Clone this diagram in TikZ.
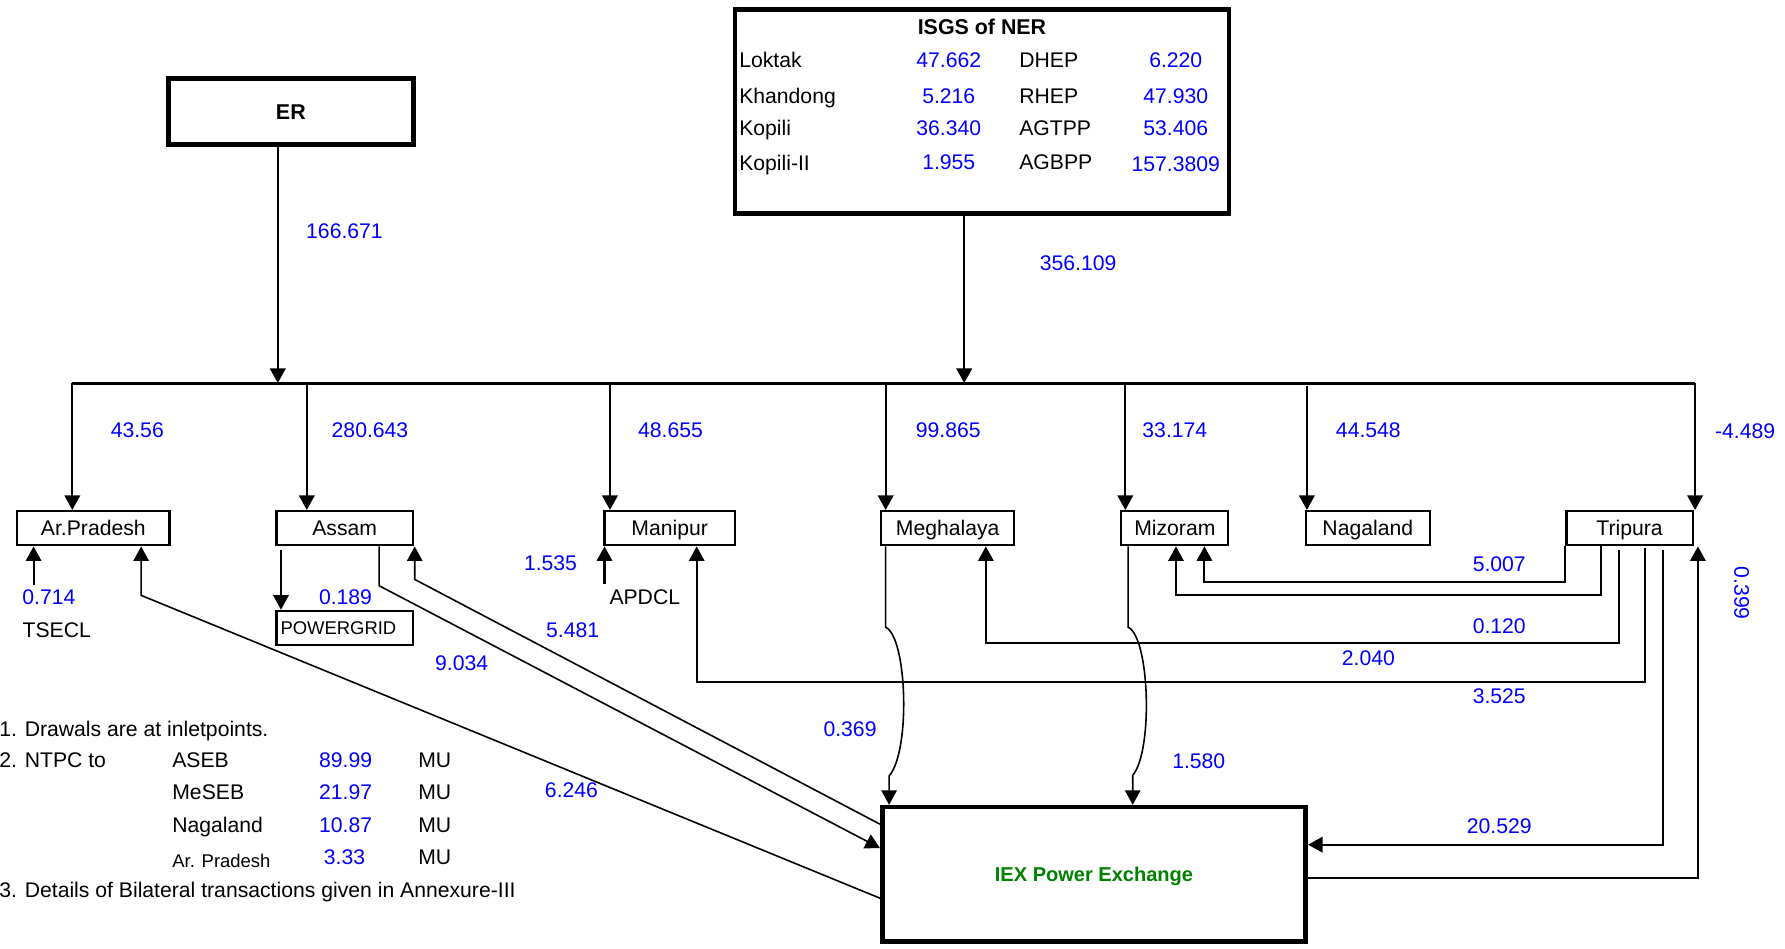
\documentclass[tikz,border=0pt]{standalone}
\usepackage{fontspec}
\setmainfont{Liberation Sans}
\usepackage{xcolor}
\usetikzlibrary{arrows.meta,positioning}
\definecolor{flowblue}{HTML}{0000FF}
\definecolor{iexgreen}{HTML}{008000}
\tikzset{
  bigbox/.style={
    rectangle,
    draw=black,
    line width=2pt,
    inner sep=0pt
  },
  statebox/.style={
    rectangle,
    draw=black,
    line width=1pt,
    minimum height=15pt,
    inner sep=0pt,
    text height=6.6pt,
    text depth=0pt,
    font=\fontsize{9.3}{11}\selectfont
  },
  txt/.style={
    inner sep=0pt,
    text height=6.6pt,
    text depth=0pt,
    font=\fontsize{9.3}{11}\selectfont
  },
  val/.style={txt, text=flowblue},
  smalltxt/.style={txt, text height=5.8pt, font=\fontsize{8.1}{10}\selectfont},
  arrow/.style={-{Triangle[length=6.4pt,width=6.8pt]}, line width=0.9pt, draw=black},
  thinarrow/.style={arrow, line width=0.7pt},
  busline/.style={line width=1.3pt}
}
\begin{document}
\begin{tikzpicture}[x=0.5pt,y=-0.5pt]
\useasboundingbox (0,0) rectangle (1568,833);

\node[bigbox, minimum width=107.5pt, minimum height=29pt, text height=6.7pt, text depth=0pt,
  font=\bfseries\fontsize{9.4}{11}\selectfont] (er) at (255.5,98) {ER};

\node[bigbox, minimum width=217pt, minimum height=89.4pt] (isgs) at (862.75,97.95) {};
\node[txt, font=\bfseries\fontsize{9.4}{11}\selectfont] (isgs-title) at (862.6,24) {ISGS of NER};
\node[txt, anchor=west] (isgs-loktak) at (649,52.7) {Loktak};
\node[txt, anchor=west] (isgs-khandong) at (649,84.3) {Khandong};
\node[txt, anchor=west] (isgs-kopili) at (649,112) {Kopili};
\node[txt, anchor=west] (isgs-kopili2) at (649,143.5) {Kopili-II};
\node[val] (v-loktak) at (833.4,52.7) {47.662};
\node[val] (v-khandong) at (833.4,84.3) {5.216};
\node[val] (v-kopili) at (833.4,112) {36.340};
\node[val] (v-kopili2) at (833.4,142.6) {1.955};
\node[txt, anchor=west] (isgs-dhep) at (895,52.7) {DHEP};
\node[txt, anchor=west] (isgs-rhep) at (895,84.3) {RHEP};
\node[txt, anchor=west] (isgs-agtpp) at (895,112) {AGTPP};
\node[txt, anchor=west] (isgs-agbpp) at (895,142.6) {AGBPP};
\node[val] (v-dhep) at (1032.8,52.7) {6.220};
\node[val] (v-rhep) at (1032.8,84.3) {47.930};
\node[val] (v-agtpp) at (1032.8,112) {53.406};
\node[val] (v-agbpp) at (1032.8,144) {157.3809};

\node[statebox, minimum width=67pt] (arp) at (82,464) {Ar.Pradesh};
\node[statebox, minimum width=59.75pt] (assam) at (302.75,464) {Assam};
\node[statebox, minimum width=57.3pt] (manipur) at (588.3,464) {Manipur};
\node[statebox, minimum width=58.5pt] (meghalaya) at (832.5,464) {Meghalaya};
\node[statebox, minimum width=47pt] (mizoram) at (1032,464) {Mizoram};
\node[statebox, minimum width=54.5pt] (nagaland) at (1201.5,464) {Nagaland};
\node[statebox, minimum width=55.5pt] (tripura) at (1431.5,464) {Tripura};
\node[statebox, minimum width=59.85pt, text height=5.8pt, inner xsep=1.7pt, text width=56.45pt,
  align=left, font=\fontsize{8.1}{10}\selectfont] (powergrid) at (302.85,551.6) {POWERGRID};

\node[bigbox, minimum width=186pt, minimum height=59pt, text=iexgreen, text height=6.3pt, text depth=0pt,
  font=\bfseries\fontsize{8.8}{10}\selectfont] (iex) at (961,768) {IEX Power Exchange};

\coordinate (busL) at (63.5,336.5);
\coordinate (busR) at (1489,336.5);
\draw[busline] (busL) -- (busR);

\coordinate (b-er) at (244,336.5);
\coordinate (b-isgs) at (847,336.5);
\draw[arrow] (b-er |- er.south) -- (b-er);
\draw[arrow] (b-isgs |- isgs.south) -- (b-isgs);
\node[val] (v-er) at (302.6,202.6) {166.671};
\node[val] (v-isgs) at (947,231.3) {356.109};

\coordinate (b-arp) at (63.5,336.5);
\coordinate (b-assam) at (269.5,336.5);
\coordinate (b-manipur) at (535.8,336.5);
\coordinate (b-meghalaya) at (778,336.5);
\coordinate (b-mizoram) at (988.5,336.5);
\coordinate (b-nagaland) at (1148,339);
\coordinate (b-tripura) at (1489,336.5);
\draw[arrow] (b-arp) -- (b-arp |- arp.north);
\draw[arrow] (b-assam) -- (b-assam |- assam.north);
\draw[arrow] (b-manipur) -- (b-manipur |- manipur.north);
\draw[arrow] (b-meghalaya) -- (b-meghalaya |- meghalaya.north);
\draw[arrow] (b-mizoram) -- (b-mizoram |- mizoram.north);
\draw[arrow] (b-nagaland) -- (b-nagaland |- nagaland.north);
\draw[arrow] (b-tripura) -- (b-tripura |- tripura.north);
\node[val] (v-arp) at (120.6,378) {43.56};
\node[val] (v-assam) at (325,378) {280.643};
\node[val] (v-manipur) at (589,378) {48.655};
\node[val] (v-meghalaya) at (833,378) {99.865};
\node[val] (v-mizoram) at (1032,378) {33.174};
\node[val] (v-nagaland) at (1202,378) {44.548};
\node[val] (v-tripura) at (1533,379) {-4.489};

\coordinate (tsecl) at (29.5,514);
\draw[arrow] (tsecl) -- (tsecl |- arp.south);
\node[val] (v-tsecl) at (43,524) {0.714};
\node[txt, anchor=west] (n-tsecl) at (19.5,553) {TSECL};

\coordinate (arp-in) at (124,523);
\draw[thinarrow] ([yshift=-10.5pt]iex.west) -- (arp-in) -- (arp-in |- arp.south);
\node[val] (v-arp-iex) at (502,694) {6.246};

\draw[arrow] ([xshift=2.4pt,yshift=-1.5pt]assam.south west) -- ([xshift=2.4pt]powergrid.north west);
\node[val] (v-pg) at (303.5,524) {0.189};

\coordinate (as-out) at (333,514.5);
\draw[thinarrow] (as-out |- assam.south) -- (as-out) -- ([yshift=11.5pt]iex.west);
\node[val] (v-as-iex) at (405.5,582) {9.034};

\coordinate (as-in) at (364.3,509);
\draw[thinarrow] ([yshift=22pt]iex.west) -- (as-in) -- (as-in |- assam.south);
\node[val] (v-iex-as) at (503,553) {5.481};

\coordinate (apdcl) at (531,513);
\draw[arrow] (apdcl) -- (apdcl |- manipur.south);
\node[val] (v-apdcl) at (483.6,494.7) {1.535};
\node[txt, anchor=west] (n-apdcl) at (535,524) {APDCL};

\coordinate (tr-ma) at (1445,481);
\coordinate (ma-in) at (612,599);
\draw[arrow] (tr-ma) |- (ma-in) -- (ma-in |- manipur.south);
\node[val] (v-tr-ma) at (1317,611) {3.525};

\coordinate (me-a) at (778,551);
\coordinate (me-b) at (781,681.6);
\draw[thinarrow] (me-a |- meghalaya.south) -- (me-a) .. controls (797,560) and (800,660) .. (me-b) -- (me-b |- iex.north);
\node[val] (v-me-iex) at (746.7,640) {0.369};

\coordinate (tr-me) at (1422.5,483);
\coordinate (me-in) at (866,565);
\draw[arrow] (tr-me) |- (me-in) -- (me-in |- meghalaya.south);
\node[val] (v-tr-me) at (1202,578) {2.040};

\coordinate (mz-in1) at (1058,511);
\draw[arrow] (tripura.south west) |- (mz-in1) -- (mz-in1 |- mizoram.south);
\node[val] (v-tr-mz1) at (1317,495) {5.007};

\coordinate (mz-in2) at (1033,523);
\draw[arrow] ([xshift=15.5pt]tripura.south west) |- (mz-in2) -- (mz-in2 |- mizoram.south);
\node[val] (v-tr-mz2) at (1317,550) {0.120};

\coordinate (mz-a) at (991,551);
\coordinate (mz-b) at (995,681);
\draw[thinarrow] (mz-a |- mizoram.south) -- (mz-a) .. controls (1010,560) and (1013,660) .. (mz-b) -- (mz-b |- iex.north);
\node[val] (v-mz-iex) at (1053,668.5) {1.580};

\coordinate (tr-iex) at (1460.5,483);
\draw[arrow] (tr-iex) |- ([yshift=13pt]iex.east);
\node[val] (v-tr-iex) at (1317,726) {20.529};

\coordinate (tr-in) at (1491.5,771);
\draw[arrow] ([yshift=-1.5pt]iex.east) -- (tr-in) -- (tr-in |- tripura.south);
\node[val, rotate=-90] (v-iex-tr) at (1530,521) {0.399};

\node[txt, anchor=west] (note1) at (-1,640) {1. Drawals are at inletpoints.};
\node[txt, anchor=west] (note2) at (-1,667.6) {2. NTPC to};
\node[txt, anchor=west] (ntpc-aseb) at (151,667.6) {ASEB};
\node[txt, anchor=west] (ntpc-meseb) at (151,695.6) {MeSEB};
\node[txt, anchor=west] (ntpc-nagaland) at (151,725) {Nagaland};
\node[smalltxt, anchor=west] (ntpc-arp) at (151,756) {Ar. Pradesh};
\node[val] (v-aseb) at (303.6,667.6) {89.99};
\node[val] (v-meseb) at (303.6,695.6) {21.97};
\node[val] (v-ntpc-nagaland) at (303.6,725) {10.87};
\node[val] (v-ntpc-arp) at (302.6,752.6) {3.33};
\node[txt, anchor=west] (mu-aseb) at (367,667.6) {MU};
\node[txt, anchor=west] (mu-meseb) at (367,695.6) {MU};
\node[txt, anchor=west] (mu-nagaland) at (367,725) {MU};
\node[txt, anchor=west] (mu-arp) at (367,752.6) {MU};
\node[txt, anchor=west] (note3) at (-1,781.8) {3. Details of Bilateral transactions given in Annexure-III};

\end{tikzpicture}
\end{document}
